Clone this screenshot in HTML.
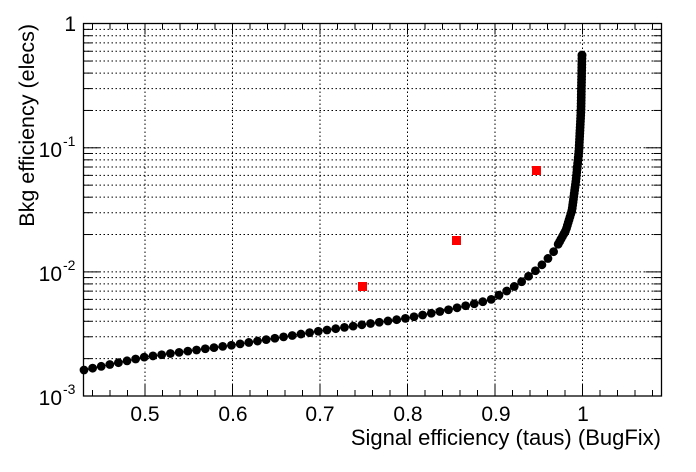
<!DOCTYPE html>
<html><head><meta charset="utf-8"><style>
html,body{margin:0;padding:0;background:#fff;}
svg{display:block;font-family:"Liberation Sans",Arial,sans-serif;}
</style></head><body>
<svg id="s" width="696" height="472" viewBox="0 0 696 472" xmlns="http://www.w3.org/2000/svg">
<rect width="696" height="472" fill="#fff"/>
<g id="grid" stroke="#000" stroke-width="1" stroke-dasharray="1.5,2.5"></g>
<g id="ticks" stroke="#000" stroke-width="1"></g>
<rect x="83.5" y="23.5" width="578" height="372.5" fill="none" stroke="#000" stroke-width="1.3"/>
<g font-size="21" fill="#000" text-anchor="middle">
<text x="145" y="421">0.5</text><text x="233" y="421">0.6</text><text x="320" y="421">0.7</text>
<text x="408" y="421">0.8</text><text x="496" y="421">0.9</text><text x="583" y="421">1</text>
</g>
<g font-size="21" fill="#000">
<text x="76" y="31" text-anchor="end">1</text>
<text x="62" y="157" text-anchor="end">10</text><text x="63" y="146" font-size="14">-1</text>
<text x="62" y="281" text-anchor="end">10</text><text x="63" y="270" font-size="14">-2</text>
<text x="62" y="405" text-anchor="end">10</text><text x="63" y="394" font-size="14">-3</text>
</g>
<text x="661" y="445" font-size="22" text-anchor="end">Signal efficiency (taus) (BugFix)</text>
<text transform="translate(34,24) rotate(-90)" font-size="21.5" text-anchor="end">Bkg efficiency (elecs)</text>
<polyline id="line" fill="none" stroke="#000" stroke-width="1"/>
<g id="pts" fill="#000"></g>
<g fill="#f00">
<rect x="358" y="282" width="9" height="9"/>
<rect x="452" y="236" width="9" height="9"/>
<rect x="532" y="166" width="9" height="9"/>
</g>
</svg>
<script>
var ns="http://www.w3.org/2000/svg";
function el(p,t,a){var e=document.createElementNS(ns,t);for(var k in a)e.setAttribute(k,a[k]);p.appendChild(e);return e;}
var L=83.5,R=661.5,T=23.5,B=396;
function X(v){return 145+(v-0.5)*875;}
function Y(v){return B-(Math.log10(v)+3)*124.1;}
var g=document.getElementById('grid'),tk=document.getElementById('ticks');
for(var i=5;i<=10;i++){var x=X(i/10);el(g,'line',{x1:x,x2:x,y1:T,y2:B});}
for(var d=-3;d<0;d++)for(var m=1;m<10;m++){var y=Y(m*Math.pow(10,d));if(m>1||d>-3){el(g,'line',{x1:L,x2:R,y1:y,y2:y});}
 var len=(m==1)?16:8;el(tk,'line',{x1:L,x2:L+len,y1:y,y2:y});el(tk,'line',{x1:R,x2:R-len,y1:y,y2:y});}
for(var v=0.44;v<1.09;v+=0.02){var x=X(v);var maj=Math.abs(v*10-Math.round(v*10))<0.01;var len=maj?11:6;
 el(tk,'line',{x1:x,x2:x,y1:B,y2:B-len});el(tk,'line',{x1:x,x2:x,y1:T,y2:T+len});}
var P=[[84,370],[145,357],[233,345],[320,331],[408,318],[452,309],[490,300],[505,292],[520,283],[534,272],[545,262],[555,250],[566,230],[572,210],[576,180],[579,150],[581,110],[582,55]];
var acc=0,next=0,out=[];
for(var i=0;i<P.length-1;i++){var a=P[i],b=P[i+1];var dx=b[0]-a[0],dy=b[1]-a[1],l=Math.hypot(dx,dy);
 while(next<=acc+l){var t=(next-acc)/l;var px=a[0]+dx*t,py=a[1]+dy*t;out.push([px,py]);next+=(px<555?8.8:3);} acc+=l;}
out.push(P[P.length-1]);
var pg=document.getElementById('pts');
out.forEach(function(p){el(pg,'circle',{cx:p[0],cy:p[1],r:4.4});});
document.getElementById('line').setAttribute('points',P.map(function(p){return p.join(',');}).join(' '));
</script>
</body></html>
